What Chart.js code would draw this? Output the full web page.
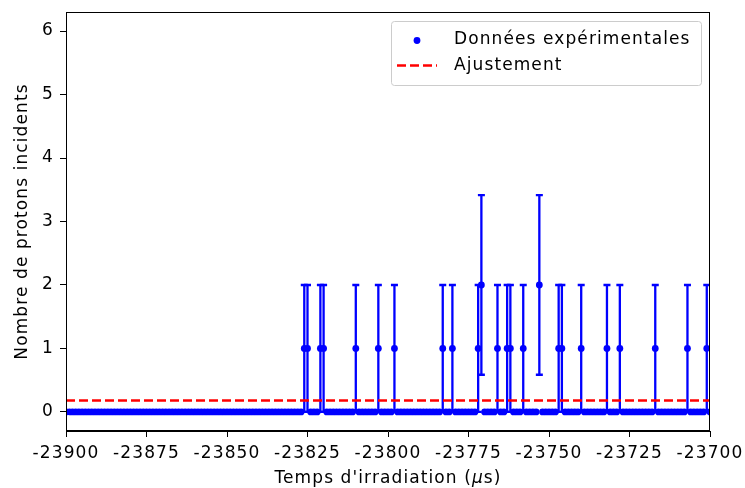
<!DOCTYPE html>
<html>
<head>
<meta charset="utf-8">
<script src="https://cdn.jsdelivr.net/npm/chart.js@4.4.0/dist/chart.umd.min.js"></script>
<style>
  html, body { margin: 0; padding: 0; background: #fff; }
</style>
</head>
<body>
<canvas id="protonChart" width="745" height="488"></canvas>
<script>
// time bins (µs), one per microsecond
const binStart = -23900
const binEnd = -23700
const binStep = 1

// bins where protons were counted (all other bins are 0)
const eventTimes = [-23826, -23825, -23821, -23820, -23810, -23803, -23798,
    -23783, -23780, -23772, -23771, -23766, -23763, -23762, -23758, -23753,
    -23747, -23746, -23740, -23732, -23728, -23717, -23707, -23701]
const eventCounts = [1, 1, 1, 1, 1, 1, 1,
    1, 1, 1, 2, 1, 1, 1, 1, 2,
    1, 1, 1, 1, 1, 1, 1, 1]

// fitted constant level
const fitLevel = 0.18

const xTicks = [-23900, -23875, -23850, -23825, -23800, -23775, -23750, -23725, -23700]
const yTicks = [0, 1, 2, 3, 4, 5, 6]

const FONT = "'DejaVu Sans', sans-serif"
const fontSize = 17
const spacing = '1.1px'

// build the points (x = time, y = count, err = sqrt(count))
const points = []
for (let t = binStart; t <= binEnd; t += binStep) {
    const i = eventTimes.indexOf(t)
    const n = i >= 0 ? eventCounts[i] : 0
    points.push({ x: t, y: n, err: Math.sqrt(n) })
}

// wider text, like the original rendering
const textSpacing = {
    id: 'textSpacing',
    beforeLayout(chart) { chart.ctx.letterSpacing = spacing },
    beforeDraw(chart) { chart.ctx.letterSpacing = spacing }
}

// error bars drawn under the markers
const errorBars = {
    id: 'errorBars',
    beforeDatasetsDraw(chart) {
        const { ctx, chartArea, scales: { x, y } } = chart
        ctx.save()
        ctx.beginPath()
        ctx.rect(chartArea.left, chartArea.top, chartArea.width, chartArea.height)
        ctx.clip()
        ctx.strokeStyle = '#0000ff'
        ctx.lineWidth = 2.3
        points.forEach(p => {
            if (!p.err) return
            const px = x.getPixelForValue(p.x)
            const y1 = y.getPixelForValue(p.y - p.err)
            const y2 = y.getPixelForValue(p.y + p.err)
            ctx.beginPath()
            ctx.moveTo(px, y1); ctx.lineTo(px, y2)
            ctx.moveTo(px - 3.5, y1); ctx.lineTo(px + 3.5, y1)
            ctx.moveTo(px - 3.5, y2); ctx.lineTo(px + 3.5, y2)
            ctx.stroke()
        })
        ctx.restore()
    }
}

// top/right spines, x title with italic mu, legend box
const frame = {
    id: 'frame',
    afterDraw(chart) {
        const { ctx, chartArea: a } = chart
        ctx.save()
        ctx.strokeStyle = '#000'
        ctx.lineWidth = 1
        ctx.strokeRect(Math.round(a.left) + 0.5, Math.round(a.top) + 0.5,
            Math.round(a.width) - 1, Math.round(a.height) - 1)

        // x axis title
        ctx.fillStyle = '#000'
        ctx.textBaseline = 'alphabetic'
        const parts = [["Temps d'irradiation (", ''], ['\u03bc', 'italic '], ['s)', '']]
        let w = 0
        parts.forEach(([s, st]) => { ctx.font = st + fontSize + 'px ' + FONT; w += ctx.measureText(s).width })
        let tx = (a.left + a.right) / 2 - w / 2
        parts.forEach(([s, st]) => {
            ctx.font = st + fontSize + 'px ' + FONT
            ctx.fillText(s, tx, 483)
            tx += ctx.measureText(s).width
        })

        // legend
        const lx = 391, ly = 21, lw = 310, lh = 64
        ctx.fillStyle = 'rgba(255,255,255,0.8)'
        ctx.strokeStyle = '#cccccc'
        ctx.beginPath()
        ctx.roundRect(lx + 0.5, ly + 0.5, lw, lh, 3)
        ctx.fill(); ctx.stroke()

        ctx.fillStyle = '#0000ff'
        ctx.beginPath()
        ctx.arc(417, 40.5, 3.4, 0, Math.PI * 2)
        ctx.fill()

        ctx.strokeStyle = '#ff0000'
        ctx.lineWidth = 2.5
        ctx.setLineDash([9, 4])
        ctx.beginPath()
        ctx.moveTo(397, 65.5); ctx.lineTo(437, 65.5)
        ctx.stroke()
        ctx.setLineDash([])

        ctx.fillStyle = '#000'
        ctx.font = fontSize + 'px ' + FONT
        ctx.textBaseline = 'middle'
        ctx.fillText('Données expérimentales', 454, 40)
        ctx.fillText('Ajustement', 454, 66)
        ctx.restore()
    }
}

const chart = new Chart(document.getElementById('protonChart'), {
    type: 'scatter',
    data: {
        datasets: [{
            label: 'Données expérimentales',
            data: points,
            pointRadius: 3.4,
            pointHoverRadius: 3.4,
            pointBorderWidth: 0,
            backgroundColor: '#0000ff',
            borderColor: '#0000ff',
            showLine: false,
            clip: 0
        }, {
            label: 'Ajustement',
            type: 'line',
            data: [{ x: binStart, y: fitLevel }, { x: binEnd, y: fitLevel }],
            borderColor: '#ff0000',
            borderWidth: 2.5,
            borderDash: [9, 4],
            pointRadius: 0,
            clip: 0
        }]
    },
    options: {
        responsive: false,
        animation: false,
        devicePixelRatio: 1,
        layout: { padding: { top: 12, right: 35, left: 0, bottom: 0 } },
        plugins: {
            legend: { display: false },
            tooltip: { enabled: false }
        },
        scales: {
            x: {
                type: 'linear',
                min: binStart,
                max: binEnd,
                afterBuildTicks: s => { s.ticks = xTicks.map(v => ({ value: v })) },
                afterFit: s => { s.height = 57; s.paddingLeft = 0; s.paddingRight = 0 },
                grid: { drawOnChartArea: false, color: '#000', tickLength: 6 },
                border: { color: '#000', width: 1 },
                ticks: {
                    color: '#000',
                    font: { family: FONT, size: fontSize },
                    padding: 6,
                    maxRotation: 0,
                    callback: v => String(v)
                }
            },
            y: {
                min: -0.3,
                max: 6.3,
                afterBuildTicks: s => { s.ticks = yTicks.map(v => ({ value: v })) },
                afterFit: s => { s.width = 66; s.paddingTop = 0; s.paddingBottom = 0 },
                grid: { drawOnChartArea: false, color: '#000', tickLength: 6 },
                border: { color: '#000', width: 1 },
                ticks: {
                    color: '#000',
                    font: { family: FONT, size: fontSize },
                    padding: 6,
                    callback: v => String(v)
                },
                title: {
                    display: true,
                    text: 'Nombre de protons incidents',
                    color: '#000',
                    font: { family: FONT, size: fontSize },
                    padding: { top: 12, bottom: 0 }
                }
            }
        }
    },
    plugins: [textSpacing, errorBars, frame]
})
</script>
</body>
</html>
